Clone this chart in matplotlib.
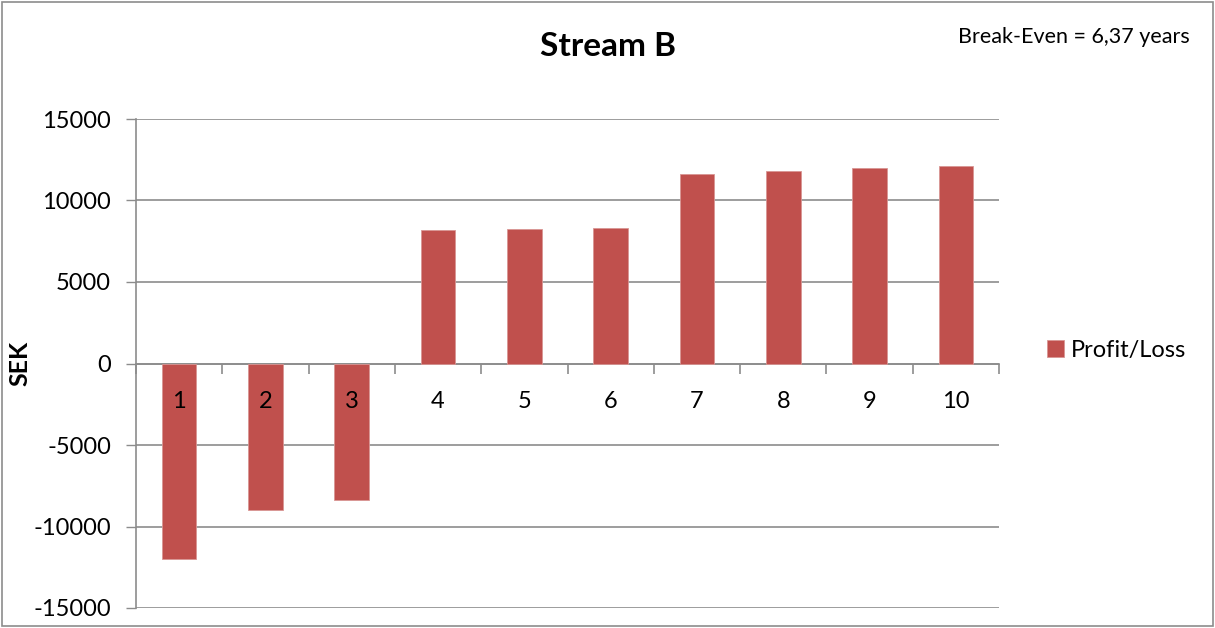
import matplotlib.pyplot as plt
from matplotlib.patches import Rectangle

plt.rcParams['font.family'] = ['Lato', 'DejaVu Sans']
plt.rcParams['axes.unicode_minus'] = False

# ---- Data ----
years = [1, 2, 3, 4, 5, 6, 7, 8, 9, 10]
profit_loss = [-12000, -8970, -8360, 8200, 8260, 8340, 11600, 11780, 11970, 12130]
y_ticks = [-15000, -10000, -5000, 0, 5000, 10000, 15000]
series_name = 'Profit/Loss'
break_even = 'Break-Even = 6,37 years'

BAR_COLOR = '#C0504D'
GRID_COLOR = '#8C8C8C'

fig = plt.figure(figsize=(12.15, 6.28), dpi=100)
ax = fig.add_axes([136 / 1215, 20 / 628, 863 / 1215, 489 / 628])

ax.bar(years, profit_loss, width=0.4, color=BAR_COLOR,
       edgecolor='#D99694', linewidth=0.6, zorder=3, label=series_name)

ax.set_xlim(0.5, 10.5)
ax.set_ylim(-15000, 15000)
ax.set_yticks(y_ticks)
ax.yaxis.grid(True, color=GRID_COLOR, linewidth=1.2)
ax.yaxis.set_zorder(1)
ax.tick_params(axis='y', length=7, width=1, color=GRID_COLOR,
               labelsize=17, pad=11)

# category axis sits on the zero line; its labels are drawn over the bars
ax.spines['bottom'].set_position(('data', 0))
ax.spines['bottom'].set_color(GRID_COLOR)
ax.spines['bottom'].set_linewidth(1.2)
ax.spines['left'].set_color(GRID_COLOR)
ax.spines['left'].set_linewidth(1.2)
ax.spines['top'].set_visible(False)
ax.spines['right'].set_visible(False)
ax.set_xticks(years)
ax.set_xticklabels([str(y) for y in years])
ax.set_xticks([y + 0.5 for y in [0] + years], minor=True)
ax.tick_params(axis='x', which='major', length=0, labelsize=17, pad=20)
ax.tick_params(axis='x', which='minor', length=7, width=1.2,
               color=GRID_COLOR, direction='out')
ax.xaxis.set_zorder(4)

fig.text(20 / 1215, 1 - 363 / 628, 'SEK', fontsize=18, fontweight='bold',
         rotation=90, ha='center', va='center')

fig.text(608 / 1215, 1 - 47 / 628, 'Stream B', fontsize=24,
         fontweight='bold', ha='center', va='center')
fig.text(1190 / 1215, 1 - 37 / 628, break_even, fontsize=15.5,
         ha='right', va='center')

ax.legend(loc='center left', bbox_to_anchor=(1.045, 0.527), frameon=False,
          fontsize=17, handlelength=0.7, handleheight=0.7,
          handletextpad=0.3, borderaxespad=0)

# outer chart border
fig.patches.append(Rectangle((0.002, 0.003), 0.996, 0.994,
                             transform=fig.transFigure, fill=False,
                             edgecolor='#8C8C8C', linewidth=1.2))

fig.savefig('out.png', dpi=100, facecolor='white')
